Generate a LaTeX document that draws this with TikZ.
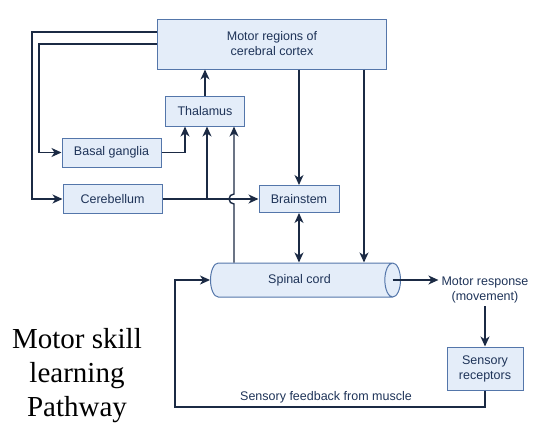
\documentclass[tikz,border=0pt]{standalone}
\usepackage{fontspec}
\setsansfont{Liberation Sans}
\newfontfamily\titlefont{Liberation Serif}
\usetikzlibrary{arrows.meta,positioning,shapes.geometric,calc}
\definecolor{boxfill}{HTML}{E4EDF9}
\definecolor{boxline}{HTML}{5476AA}
\definecolor{wire}{HTML}{1B2A44}
\definecolor{labelink}{HTML}{1E3358}
\tikzstyle{region}=[draw=boxline,fill=boxfill,line width=1pt,text=labelink,font=\sffamily\fontsize{12.5}{15}\selectfont,align=center,inner sep=2pt]
\tikzstyle{caption}=[text=labelink,font=\sffamily\fontsize{12.5}{15}\selectfont,align=center,inner sep=3pt]
\tikzstyle{pathway}=[draw=wire,line width=1.4pt,-{Stealth[length=10pt,width=9pt,inset=3pt]}]
\tikzstyle{bothways}=[draw=wire,line width=1.4pt,{Stealth[length=10pt,width=9pt,inset=3pt]}-{Stealth[length=10pt,width=9pt,inset=3pt]}]

\begin{document}
\begin{tikzpicture}[x=1pt,y=-1pt]
	\useasboundingbox (0,0) rectangle (560,426);
	% boxes
	\node[region,minimum width=229pt,minimum height=50pt] (cortex) at (272,44) {Motor regions of\\cerebral cortex};
	\node[region,minimum width=79pt,minimum height=30pt] (thalamus) at (205,111) {Thalamus};
	\node[region,minimum width=99pt,minimum height=29pt] (basal) at (111.5,152.5) {Basal ganglia};
	\node[region,minimum width=99pt,minimum height=29pt] (cereb) at (112.5,199) {Cerebellum};
	\node[region,minimum width=80pt,minimum height=27pt] (brainstem) at (299,199) {Brainstem};
	% cylinder: min height runs along the axis, min width is the diameter
	\node[region,shape=cylinder,aspect=1,minimum height=190pt,minimum width=34pt] (spinal) at (299.5,280) {Spinal cord};
	\node[caption] (response) at (485,290) {Motor response\\(movement)};
	\node[region,minimum width=76pt,minimum height=43pt] (receptors) at (485,368.5) {Sensory\\receptors};
	\node[caption] (feedback) at (326,397) {Sensory feedback from muscle};
	\node[align=center,font=\titlefont\fontsize{29}{34}\selectfont] (title) at (77,376) {Motor skill\\learning\\Pathway};
	% helper points
	\coordinate (branch) at (207,199);
	\coordinate (hop) at (234,199);
	\coordinate (cordtop) at ($(cortex.south)+(92,0)$);
	\coordinate (cordend) at ($(spinal.east)+(-8.5,0)$);
	\coordinate (fbcorner) at (175,407);
	% cortex to basal ganglia and cerebellum
	\draw[pathway] (cortex.west) -- ++(-118,0) |- (basal.west);
	\draw[pathway] ([yshift=12pt]cortex.west) -- ++(-125,0) |- (cereb.west);
	% into thalamus
	\draw[pathway] (basal.east) -| (thalamus.south -| 185,0);
	\draw[pathway] (cereb.east) -- (brainstem.west);
	\draw[pathway] (branch) -- (branch |- thalamus.south);
	\draw[pathway] (hop |- spinal.north) -- ($(hop)+(0,5)$) arc (90:270:5) -- (hop |- thalamus.south);
	\draw[pathway] (thalamus.north) -- (thalamus.north |- cortex.south);
	% descending
	\draw[pathway] (cortex.south -| brainstem.north) -- (brainstem.north);
	\draw[pathway] (cordtop) -- (cordtop |- spinal.north);
	\draw[bothways] (brainstem.south) -- (brainstem.south |- spinal.north);
	% response and feedback
	\draw[pathway] (cordend) -- (cordend -| response.west);
	\draw[pathway] (response.south) -- (receptors.north);
	\draw[pathway] (receptors.south) |- (fbcorner) |- (spinal.west);
\end{tikzpicture}
\end{document}
